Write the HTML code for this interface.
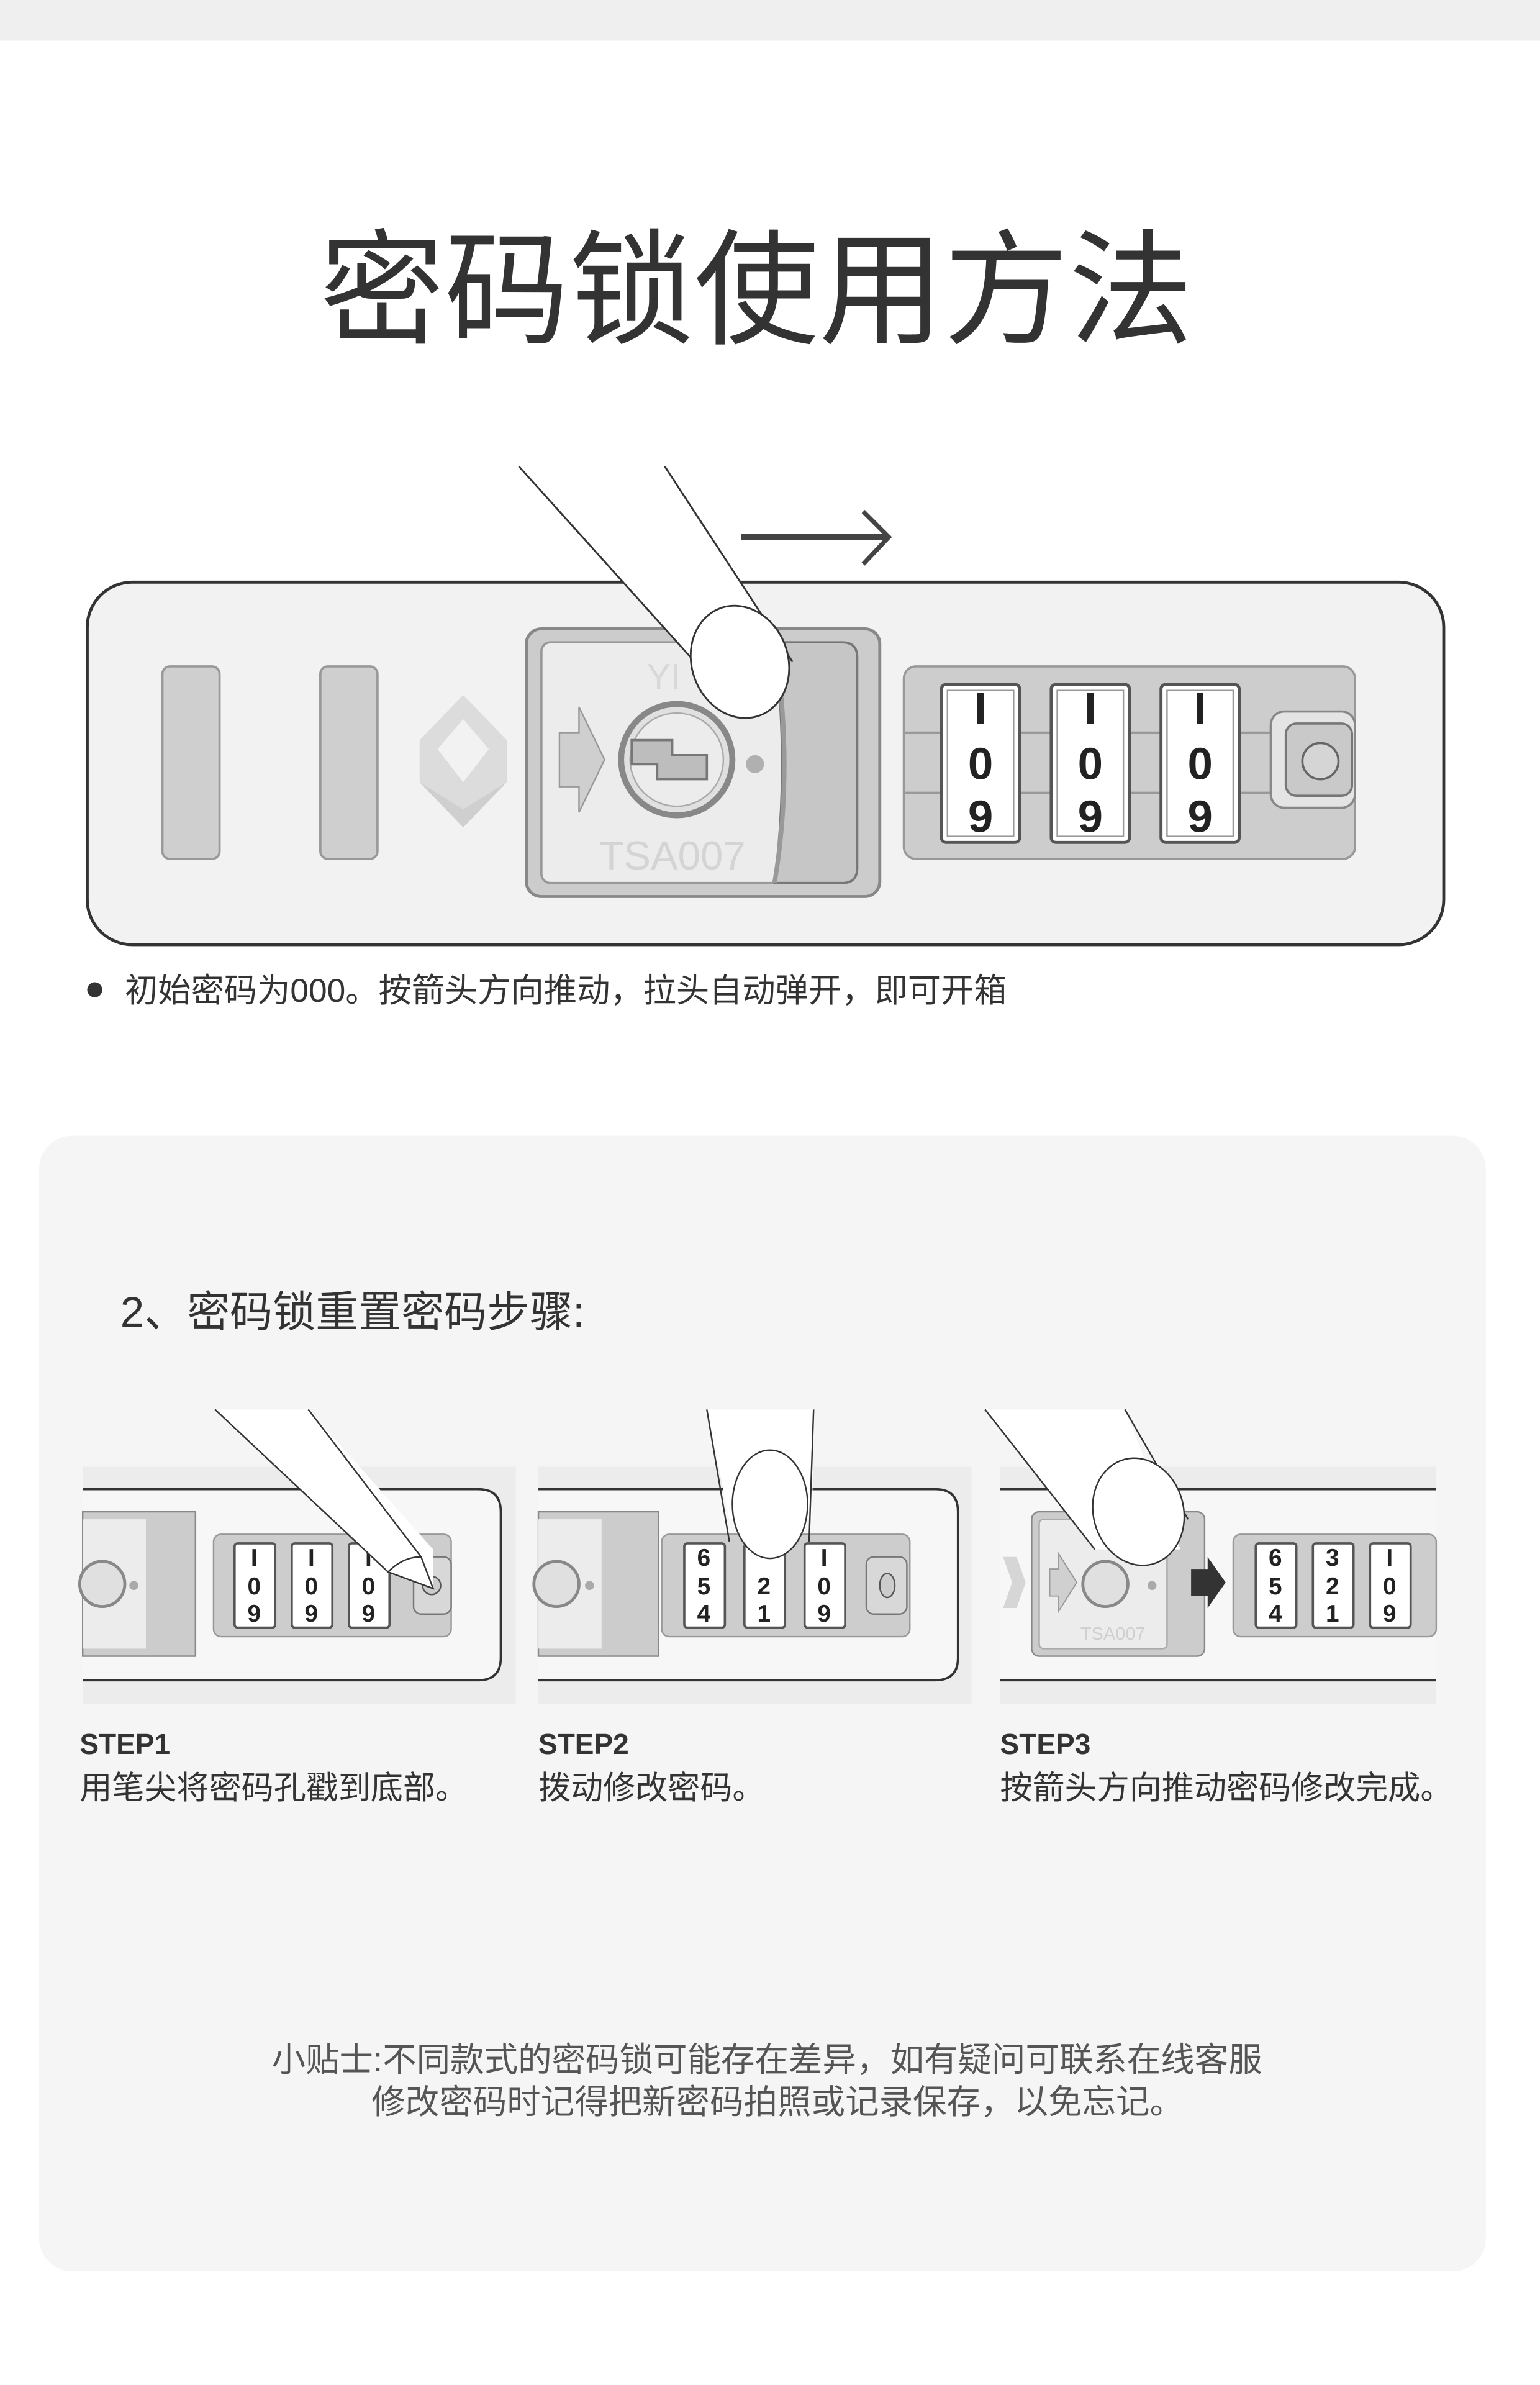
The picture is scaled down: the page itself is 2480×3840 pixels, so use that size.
<!DOCTYPE html>
<html><head><meta charset="utf-8"><style>
html,body{margin:0;padding:0;background:#fff;}
svg{display:block;}
text{font-family:"Liberation Sans","Noto Sans CJK SC",sans-serif;}
</style></head><body>
<svg width="2480" height="3840" viewBox="0 0 1024 1585.5" xmlns="http://www.w3.org/2000/svg">
<defs>
<g id="bd">
 <rect x="0" y="0" width="52" height="105" rx="3" fill="#fff" stroke="#555" stroke-width="2"/>
 <rect x="4" y="4" width="44" height="97" fill="none" stroke="#999" stroke-width="1"/>
</g>
<g id="sd">
 <rect x="0" y="0" width="27" height="56" rx="2" fill="#fff" stroke="#555" stroke-width="1.5"/>
</g>
</defs>
<rect width="1024" height="1585.5" fill="#fff"/>
<rect x="0" y="0" width="1024" height="27" fill="#efefef"/>
<text x="503" y="222" font-size="83" fill="#333" text-anchor="middle">密码锁使用方法</text>

<line x1="493" y1="357" x2="590" y2="357" stroke="#444" stroke-width="4"/>
<polyline points="574,340 591,357 574,375" fill="none" stroke="#444" stroke-width="3"/>

<rect x="58" y="387" width="902" height="241" rx="30" fill="#f2f2f2" stroke="#333" stroke-width="2"/>
<rect x="108" y="443" width="38" height="128" rx="5" fill="#cfcfcf" stroke="#999" stroke-width="1.5"/>
<rect x="213" y="443" width="38" height="128" rx="5" fill="#cfcfcf" stroke="#999" stroke-width="1.5"/>
<polygon points="308,462 337,492 337,520 308,550 279,520 279,492" fill="#dcdcdc"/>
<polygon points="308,478 325,498 308,520 291,498" fill="#f2f2f2"/>
<polygon points="279,520 308,538 337,520 308,550" fill="#cfcfcf"/>
<rect x="350" y="418" width="235" height="178" rx="10" fill="#cccccc" stroke="#888" stroke-width="2"/>
<rect x="360" y="427" width="175" height="160" rx="6" fill="#ececec" stroke="#999" stroke-width="1.5"/>
<path d="M515 427 L560 427 Q570 427 570 437 L570 577 Q570 587 560 587 L515 587 Q525 510 515 427Z" fill="#c6c6c6" stroke="#777" stroke-width="1.5"/>
<path d="M515 427 Q528 510 515 587" fill="none" stroke="#999" stroke-width="3"/>
<polygon points="372,487 385,487 385,470 402,505 385,540 385,523 372,523" fill="#cfcfcf" stroke="#999" stroke-width="1"/>
<circle cx="450" cy="505" r="37" fill="#e0e0e0" stroke="#888" stroke-width="4"/>
<circle cx="450" cy="505" r="31" fill="#ececec" stroke="#aaa" stroke-width="1"/>
<polygon points="420,492 447,492 447,502 470,502 470,518 437,518 437,508 420,508" fill="#bdbdbd" stroke="#777" stroke-width="1.5"/>
<circle cx="502" cy="508" r="6" fill="#b0b0b0"/>
<text x="430" y="458" font-size="24" fill="#d8d8d8">YI</text>
<text x="447" y="578" font-size="27" fill="#d4d4d4" text-anchor="middle">TSA007</text>
<path d="M345 310 L462 440 Q470 475 500 476 Q525 470 523 435 L442 310 Z" fill="#fff"/>
<line x1="345" y1="310" x2="462" y2="440" stroke="#333" stroke-width="1.2"/>
<line x1="442" y1="310" x2="527" y2="440" stroke="#333" stroke-width="1.2"/>
<ellipse cx="492" cy="440" rx="32" ry="38" transform="rotate(-20 492 440)" fill="#fff" stroke="#333" stroke-width="1.2"/>
<rect x="601" y="443" width="300" height="128" rx="8" fill="#cdcdcd" stroke="#999" stroke-width="1.5"/>
<line x1="601" y1="487" x2="901" y2="487" stroke="#999" stroke-width="1.5"/>
<line x1="601" y1="527" x2="901" y2="527" stroke="#999" stroke-width="1.5"/>
<use href="#bd" x="626" y="455"/><use href="#bd" x="699" y="455"/><use href="#bd" x="772" y="455"/>
<g font-size="30" font-weight="bold" fill="#222" text-anchor="middle">
<text x="652" y="481">I</text><text x="652" y="518">0</text><text x="652" y="553">9</text>
<text x="725" y="481">I</text><text x="725" y="518">0</text><text x="725" y="553">9</text>
<text x="798" y="481">I</text><text x="798" y="518">0</text><text x="798" y="553">9</text>
</g>
<rect x="845" y="473" width="56" height="64" rx="9" fill="#e4e4e4" stroke="#888" stroke-width="1.5"/>
<rect x="855" y="481" width="44" height="48" rx="7" fill="#c9c9c9" stroke="#777" stroke-width="1.5"/>
<circle cx="878" cy="506" r="12" fill="#d5d5d5" stroke="#666" stroke-width="1.5"/>

<circle cx="63" cy="658" r="5" fill="#333"/>
<text x="83" y="666" font-size="22" fill="#333">初始密码为000。按箭头方向推动，拉头自动弹开，即可开箱</text>

<rect x="26" y="755" width="962" height="755" rx="22" fill="#f6f5f6"/>
<text x="80" y="882" font-size="28.5" fill="#333">2、密码锁重置密码步骤:</text>

<!-- step1 -->
<rect x="55" y="975" width="288" height="158" fill="#ececec"/>
<path d="M55 990 L318 990 Q333 990 333 1005 L333 1102 Q333 1117 318 1117 L55 1117" fill="#f7f7f7" stroke="#333" stroke-width="1.5"/>
<rect x="55" y="1005" width="75" height="96" fill="#cccccc" stroke="#888" stroke-width="1"/>
<rect x="55" y="1010" width="42" height="86" fill="#ececec"/>
<circle cx="68" cy="1053" r="15" fill="#e0e0e0" stroke="#888" stroke-width="2"/>
<circle cx="89" cy="1054" r="3" fill="#aaa"/>
<rect x="142" y="1020" width="158" height="68" rx="5" fill="#cdcdcd" stroke="#999" stroke-width="1"/>
<use href="#sd" x="156" y="1026"/><use href="#sd" x="194" y="1026"/><use href="#sd" x="232" y="1026"/>
<g font-size="16" font-weight="bold" fill="#222" text-anchor="middle">
<text x="169" y="1041">I</text><text x="169" y="1060">0</text><text x="169" y="1078">9</text>
<text x="207" y="1041">I</text><text x="207" y="1060">0</text><text x="207" y="1078">9</text>
<text x="245" y="1041">I</text><text x="245" y="1060">0</text><text x="245" y="1078">9</text>
</g>
<rect x="275" y="1035" width="25" height="38" rx="5" fill="#d8d8d8" stroke="#777" stroke-width="1"/>
<circle cx="287" cy="1054" r="6" fill="#ccc" stroke="#555"/>
<path d="M143 937 L258 1045 L288 1055 L288 1030 L205 937Z" fill="#fff"/>
<line x1="143" y1="937" x2="258" y2="1045" stroke="#333" stroke-width="1"/>
<line x1="205" y1="937" x2="280" y2="1035" stroke="#333" stroke-width="1"/>
<path d="M258 1045 L288 1056 L280 1035 Q268 1035 258 1045Z" fill="#fff" stroke="#333" stroke-width="1"/>

<!-- step2 -->
<rect x="358" y="975" width="288" height="158" fill="#ececec"/>
<path d="M358 990 L622 990 Q637 990 637 1005 L637 1102 Q637 1117 622 1117 L358 1117" fill="#f7f7f7" stroke="#333" stroke-width="1.5"/>
<rect x="358" y="1005" width="80" height="96" fill="#cccccc" stroke="#888" stroke-width="1"/>
<rect x="358" y="1010" width="42" height="86" fill="#ececec"/>
<circle cx="370" cy="1053" r="15" fill="#e0e0e0" stroke="#888" stroke-width="2"/>
<circle cx="392" cy="1054" r="3" fill="#aaa"/>
<rect x="440" y="1020" width="165" height="68" rx="5" fill="#cdcdcd" stroke="#999" stroke-width="1"/>
<use href="#sd" x="455" y="1026"/><use href="#sd" x="495" y="1026"/><use href="#sd" x="535" y="1026"/>
<g font-size="16" font-weight="bold" fill="#222" text-anchor="middle">
<text x="468" y="1041">6</text><text x="468" y="1060">5</text><text x="468" y="1078">4</text>
<text x="508" y="1060">2</text><text x="508" y="1078">1</text>
<text x="548" y="1041">I</text><text x="548" y="1060">0</text><text x="548" y="1078">9</text>
</g>
<rect x="576" y="1035" width="27" height="38" rx="5" fill="#d8d8d8" stroke="#777" stroke-width="1"/>
<ellipse cx="590" cy="1054" rx="5" ry="8" fill="#ccc" stroke="#555"/>
<path d="M470 937 L485 1010 L540 1010 L541 937Z" fill="#fff"/>
<line x1="470" y1="937" x2="485" y2="1025" stroke="#333" stroke-width="1"/>
<line x1="541" y1="937" x2="538" y2="1025" stroke="#333" stroke-width="1"/>
<ellipse cx="512" cy="1000" rx="25" ry="36" fill="#fff" stroke="#333" stroke-width="1"/>

<!-- step3 -->
<rect x="665" y="975" width="290" height="158" fill="#ececec"/>
<line x1="665" y1="990" x2="955" y2="990" stroke="#333" stroke-width="1.5"/>
<line x1="665" y1="1117" x2="955" y2="1117" stroke="#333" stroke-width="1.5"/>
<rect x="665" y="991" width="290" height="125" fill="#f7f7f7"/>
<polygon points="667,1035 676,1035 682,1052 676,1069 667,1069 673,1052" fill="#d6d6d6"/>
<rect x="686" y="1005" width="115" height="96" rx="5" fill="#cccccc" stroke="#888" stroke-width="1"/>
<rect x="691" y="1010" width="85" height="86" rx="3" fill="#ececec" stroke="#aaa"/>
<polygon points="698,1043 704,1043 704,1033 716,1052 704,1071 704,1061 698,1061" fill="#d0d0d0" stroke="#999" stroke-width="0.8"/>
<circle cx="735" cy="1053" r="15" fill="#e0e0e0" stroke="#888" stroke-width="2"/>
<circle cx="766" cy="1054" r="3" fill="#aaa"/>
<text x="740" y="1090" font-size="12" fill="#d0d0d0" text-anchor="middle">TSA007</text>
<polygon points="792,1043 803,1043 803,1035 815,1052 803,1069 803,1061 792,1061" fill="#333"/>
<rect x="820" y="1020" width="135" height="68" rx="5" fill="#cdcdcd" stroke="#999" stroke-width="1"/>
<use href="#sd" x="835" y="1026"/><use href="#sd" x="873" y="1026"/><use href="#sd" x="911" y="1026"/>
<g font-size="16" font-weight="bold" fill="#222" text-anchor="middle">
<text x="848" y="1041">6</text><text x="848" y="1060">5</text><text x="848" y="1078">4</text>
<text x="886" y="1041">3</text><text x="886" y="1060">2</text><text x="886" y="1078">1</text>
<text x="924" y="1041">I</text><text x="924" y="1060">0</text><text x="924" y="1078">9</text>
</g>
<path d="M655 937 L728 1030 L785 1030 L748 937Z" fill="#fff"/>
<line x1="655" y1="937" x2="728" y2="1030" stroke="#333" stroke-width="1"/>
<line x1="748" y1="937" x2="790" y2="1010" stroke="#333" stroke-width="1"/>
<ellipse cx="757" cy="1005" rx="30" ry="36" transform="rotate(-15 757 1005)" fill="#fff" stroke="#333" stroke-width="1"/>

<g fill="#333">
<text x="53" y="1166" font-size="19" font-weight="bold">STEP1</text>
<text x="53" y="1196" font-size="21.5">用笔尖将密码孔戳到底部。</text>
<text x="358" y="1166" font-size="19" font-weight="bold">STEP2</text>
<text x="358" y="1196" font-size="21.5">拨动修改密码。</text>
<text x="665" y="1166" font-size="19" font-weight="bold">STEP3</text>
<text x="665" y="1196" font-size="21.5">按箭头方向推动密码修改完成。</text>
</g>
<g fill="#555" font-size="22.5" text-anchor="middle">
<text x="510" y="1377">小贴士:不同款式的密码锁可能存在差异，如有疑问可联系在线客服</text>
<text x="517" y="1405">修改密码时记得把新密码拍照或记录保存，以免忘记。</text>
</g>
</svg>
</body></html>
